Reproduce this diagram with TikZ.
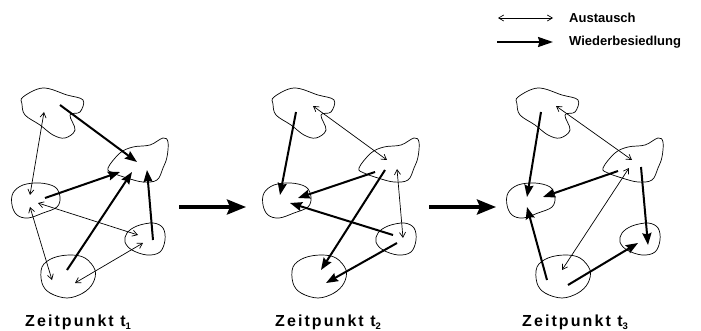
\documentclass[tikz,border=0pt]{standalone}
\usepackage{fontspec}
\setmainfont{Liberation Sans}
\newfontfamily\tlabelfont{Liberation Sans}[LetterSpace=13]
\usetikzlibrary{arrows.meta,calc}

% five habitat patches of one time step, drawn in panel coordinates
\newcommand\patches[1]{%
  \coordinate (A#1) at (52,112);
  \coordinate (B#1) at (140,162);
  \coordinate (C#1) at (36,200);
  \coordinate (D#1) at (145,240);
  \coordinate (E#1) at (68,277);
  \draw[blob] plot[smooth cycle,tension=0.6] coordinates {(23,97) (43,88) (67,95) (83,100) (80,112) (70,115) (75,130) (65,138) (53,135) (40,125) (25,115) (22,104)};
  \draw[blob] plot[smooth cycle,tension=0.6] coordinates {(108,168) (120,153) (133,147) (150,145) (163,138) (168,142) (167,157) (163,168) (157,180) (143,182) (127,178) (113,173)};
  \draw[blob] plot[smooth cycle,tension=0.6] coordinates {(13,193) (23,185) (40,183) (55,187) (60,197) (57,207) (43,213) (28,218) (17,215) (12,205)};
  \draw[blob] plot[smooth cycle,tension=0.6] coordinates {(127,233) (137,226) (153,223) (163,228) (165,240) (160,252) (147,255) (132,250) (125,242)};
  \draw[blob] plot[smooth cycle,tension=0.6] coordinates {(42,267) (53,258) (70,255) (85,258) (95,270) (93,283) (83,293) (67,298) (50,293) (42,283)};
}

\begin{document}
\begin{tikzpicture}[x=1pt,y=-1pt,
  blob/.style={draw, line width=0.7pt},
  swap/.style={line width=0.7pt, {Straight Barb[length=5pt,width=6pt]}-{Straight Barb[length=5pt,width=6pt]}},
  recol/.style={line width=2pt, -{Stealth[length=12pt,width=9pt,inset=1.5pt]}},
  legrecol/.style={line width=2pt, -{Stealth[length=15pt,width=10pt,inset=1.5pt]}},
  stage/.style={line width=3.5pt, -{Stealth[length=19pt,width=15pt,inset=3pt]}},
  legtext/.style={anchor=west, inner sep=0pt, font=\fontsize{13}{15}\selectfont\bfseries},
  tlabel/.style={anchor=base west, inner sep=0pt, font=\tlabelfont\fontsize{16}{18}\selectfont\bfseries}]
\useasboundingbox (0,0) rectangle (701,331);

% legend
\coordinate (la1) at (498,18);
\coordinate (la2) at (553,18);
\coordinate (lb1) at (497,42);
\coordinate (lb2) at (553,42);
\draw[swap] (la1) -- (la2);
\draw[legrecol] (lb1) -- (lb2);
\node[legtext] (lta) at (569,18) {Austausch};
\node[legtext] (ltb) at (569,42) {Wiederbesiedlung};

% patches of the three time steps
\begin{scope}\patches{1}\end{scope}
\begin{scope}[xshift=251pt]\patches{2}\end{scope}
\begin{scope}[xshift=495pt]\patches{3}\end{scope}

% time step t1
\draw[recol] ($(A1)+(8,-7)$) -- ($(B1)+(-3,0)$);
\draw[swap]  ($(A1)+(-8,0)$) -- ($(C1)+(-6,-5)$);
\draw[recol] ($(C1)+(9,-2)$) -- ($(B1)+(-20,10)$);
\draw[recol] ($(E1)+(-1,-7)$) -- ($(B1)+(-8,10)$);
\draw[recol] ($(D1)+(8,0)$) -- ($(B1)+(7,8)$);
\draw[swap]  ($(C1)+(2,3)$) -- ($(D1)+(-7,-5)$);
\draw[swap]  ($(C1)+(-6,7)$) -- ($(E1)+(-16,3)$);
\draw[swap]  ($(E1)+(7,6)$) -- ($(D1)+(-2,3)$);

% time step t2
\draw[recol] ($(A2)+(-7,0)$) -- ($(C2)+(-7,-5)$);
\draw[swap]  ($(A2)+(10,-6)$) -- ($(B2)+(-4,-2)$);
\draw[recol] ($(B2)+(-16,10)$) -- ($(C2)+(11,-2)$);
\draw[recol] ($(B2)+(-6,8)$) -- ($(E2)+(2,-7)$);
\draw[swap]  ($(B2)+(6,7)$) -- ($(D2)+(7,-2)$);
\draw[recol] ($(D2)+(-3,-5)$) -- ($(C2)+(3,3)$);
\draw[recol] ($(D2)+(1,3)$) -- ($(E2)+(7,6)$);

% time step t3
\draw[recol] ($(A3)+(-6,0)$) -- ($(C3)+(-4,-3)$);
\draw[swap]  ($(A3)+(9,-6)$) -- ($(B3)+(-3,-2)$);
\draw[recol] ($(B3)+(-17,9)$) -- ($(C3)+(12,-3)$);
\draw[swap]  ($(B3)+(-6,6)$) -- ($(E3)+(-1,-7)$);
\draw[recol] ($(B3)+(6,5)$) -- ($(D3)+(8,5)$);
\draw[recol] ($(E3)+(-16,3)$) -- ($(C3)+(-4,7)$);
\draw[recol] ($(E3)+(5,8)$) -- ($(D3)+(-2,3)$);

% transitions between time steps
\coordinate (s1a) at (179,207);
\coordinate (s1b) at (246,207);
\coordinate (s2a) at (429,207);
\coordinate (s2b) at (496,207);
\draw[stage] (s1a) -- (s1b);
\draw[stage] (s2a) -- (s2b);

% time step captions
\node[tlabel] (t1) at (25,326) {Zeitpunkt t\raisebox{-3pt}{\fontsize{9.5}{10}\selectfont 1}};
\node[tlabel] (t2) at (275,326) {Zeitpunkt t\raisebox{-3pt}{\fontsize{9.5}{10}\selectfont 2}};
\node[tlabel] (t3) at (522,326) {Zeitpunkt t\raisebox{-3pt}{\fontsize{9.5}{10}\selectfont 3}};
\end{tikzpicture}
\end{document}
